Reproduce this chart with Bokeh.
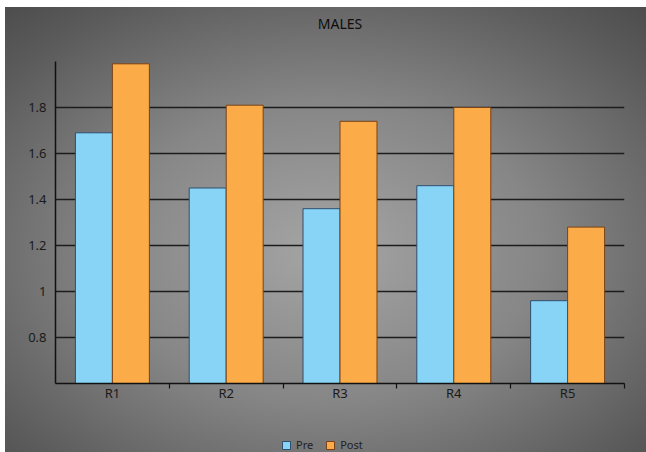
import numpy as np
from bokeh.plotting import figure
from bokeh.layouts import column
from bokeh.models import FixedTicker, Legend, LegendItem, Range1d, Title
from bokeh.embed import file_html
from bokeh.resources import INLINE

# ---- data ----
categories = ["R1", "R2", "R3", "R4", "R5"]
pre = [1.69, 1.45, 1.36, 1.46, 0.96]
post = [1.99, 1.81, 1.74, 1.80, 1.28]
series_names = ["Pre", "Post"]
y_ticks = [0.8, 1.0, 1.2, 1.4, 1.6, 1.8]
y_tick_labels = ["0.8", "1", "1.2", "1.4", "1.6", "1.8"]
y_start, y_end = 0.6, 2.0
title_text = "MALES"

FONT = "Noto Sans"
pre_color, pre_line = "#88d4f6", "#2f4e70"
post_color, post_line = "#fbab47", "#7a4216"

centers = np.arange(len(categories)) + 0.5
bw = 0.325

p = figure(width=641, height=428, output_backend="svg", toolbar_location=None,
           x_range=Range1d(0, len(categories)), y_range=Range1d(y_start, y_end),
           min_border_left=50, min_border_right=22, min_border_top=54, min_border_bottom=52)
p.background_fill_color = None
p.border_fill_color = None
p.outline_line_color = None

r_pre = p.vbar(x=centers - bw / 2, top=pre, bottom=y_start, width=bw,
               fill_color=pre_color, line_color=pre_line, line_width=1)
r_post = p.vbar(x=centers + bw / 2, top=post, bottom=y_start, width=bw,
                fill_color=post_color, line_color=post_line, line_width=1)

# real title (outer slot) + spacer title next to the frame
p.title.text = title_text
p.title.align = "center"
p.title.text_font = FONT
p.title.text_font_size = "14px"
p.title.text_font_style = "normal"
p.title.text_color = "#0d0d0d"
p.title.standoff = 0
p.add_layout(Title(text=" ", text_font_size="24px", standoff=0), "above")

# axes
xa = p.xaxis[0]
xa.ticker = FixedTicker(ticks=list(centers), minor_ticks=list(range(1, len(categories) + 1)))
xa.major_label_overrides = {float(c): lab for c, lab in zip(centers, categories)}
xa.major_tick_line_color = None
xa.major_tick_in = 0
xa.major_tick_out = 0
xa.minor_tick_in = 0
xa.minor_tick_out = 5
xa.minor_tick_line_color = "#111111"
xa.minor_tick_line_width = 1.2
xa.axis_line_color = "#111111"
xa.axis_line_width = 1.5
xa.major_label_text_font = FONT
xa.major_label_text_font_size = "13px"
xa.major_label_text_color = "#1a1a1a"
xa.major_label_standoff = -5

ya = p.yaxis[0]
ya.ticker = FixedTicker(ticks=y_ticks)
ya.major_label_overrides = dict(zip(y_ticks, y_tick_labels))
ya.major_tick_line_color = None
ya.major_tick_in = 0
ya.major_tick_out = 0
ya.minor_tick_line_color = None
ya.axis_line_color = "#111111"
ya.axis_line_width = 1.5
ya.major_label_text_font = FONT
ya.major_label_text_font_size = "13px"
ya.major_label_text_color = "#1a1a1a"
ya.major_label_standoff = 9

p.xgrid.grid_line_color = None
p.ygrid.grid_line_color = "#1c1c1c"
p.ygrid.grid_line_width = 1.3

# legend strip below the chart (zero-size proxy bars only carry the legend styles)
pl = figure(width=641, height=17, output_backend="svg", toolbar_location=None,
            x_range=Range1d(0, 1), y_range=Range1d(0, 1),
            x_axis_location=None, y_axis_location=None,
            min_border_left=0, min_border_right=0, min_border_top=0, min_border_bottom=0)
pl.background_fill_color = None
pl.border_fill_color = None
pl.outline_line_color = None
pl.xgrid.visible = False
pl.ygrid.visible = False
l_pre = pl.vbar(x=[0.5], top=[0], bottom=[0], width=0,
                fill_color=pre_color, line_color=pre_line, line_width=1)
l_post = pl.vbar(x=[0.5], top=[0], bottom=[0], width=0,
                 fill_color=post_color, line_color=post_line, line_width=1)
legend = Legend(items=[LegendItem(label=series_names[0], renderers=[l_pre]),
                       LegendItem(label=series_names[1], renderers=[l_post])],
                orientation="horizontal", location=(226, 0),
                background_fill_alpha=0, border_line_color=None,
                glyph_width=10, glyph_height=10, label_text_font=FONT,
                label_text_font_size="11px", label_text_color="#222222",
                label_height=12, label_width=10, spacing=12, label_standoff=5,
                padding=2, margin=0)
pl.add_layout(legend, "center")

layout = column(p, pl, spacing=0)
layout.margin = (7, 0, 0, 5)
layout.styles = {"background": "radial-gradient(ellipse 75% 75% at 50% 55%, #a5a5a5 0%, #868686 45%, #5a5a5a 85%, #4c4c4c 100%)"}

open("out.html", "w").write(file_html(layout, INLINE))
